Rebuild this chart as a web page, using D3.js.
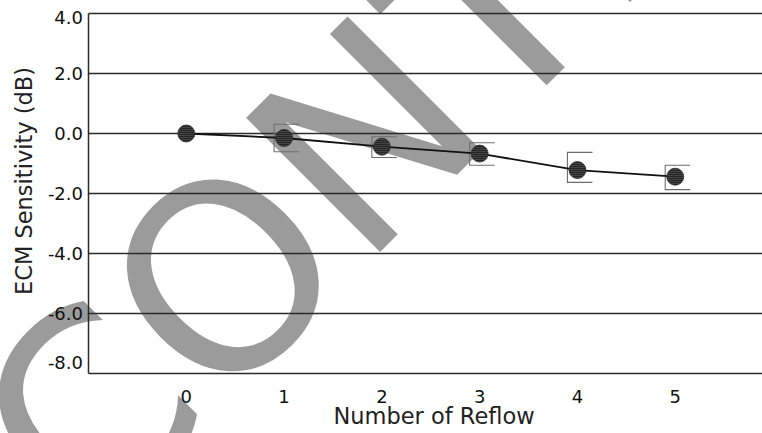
<!DOCTYPE html>
<html>
<head>
<meta charset="utf-8">
<script src="https://cdn.jsdelivr.net/npm/d3@7"></script>
<style>
  body { margin: 0; background: #fff; }
  text { font-family: "DejaVu Sans", Verdana, sans-serif; }
</style>
</head>
<body>
<script>
// chart values
var reflows = [0, 1, 2, 3, 4, 5];
var sensitivity = [0.0, -0.15, -0.44, -0.67, -1.22, -1.44];
var errUpper = [null, 0.31, -0.11, -0.31, -0.63, -1.06];
var errLower = [null, -0.61, -0.80, -1.06, -1.63, -1.87];
var yTicks = [4, 2, 0, -2, -4, -6, -8];
var yTickLabels = ["4.0", "2.0", "0.0", "-2.0", "-4.0", "-6.0", "-8.0"];
var xTickLabels = ["0", "1", "2", "3", "4", "5"];
var watermark = "CONTROLLED COPY";

window.onload = drawChart();

function drawChart(){

    var width = 762,
        height = 433;

    var svg = d3.select("body")
        .append("svg")
        .attr("width", width)
        .attr("height", height);

    //scales
    var x = d3.scaleLinear()
        .domain([-1, 6])
        .range([88.5, 773]);

    var y = d3.scaleLinear()
        .domain([-8, 4])
        .range([373.5, 13.5]);

    //striped fill for the markers
    var pat = svg.append("defs").append("pattern")
        .attr("id", "stripes")
        .attr("patternUnits", "userSpaceOnUse")
        .attr("width", 6)
        .attr("height", 2);
    pat.append("rect").attr("width", 6).attr("height", 2).attr("fill", "#454545");
    pat.append("rect").attr("width", 6).attr("height", 0.8).attr("fill", "#1c1c1c");

    //grey watermark sits under everything
    svg.append("text")
        .attr("transform", "translate(89,543) rotate(-45)")
        .attr("font-size", 260)
        .attr("fill", "#9b9b9b")
        .text(watermark);

    //horizontal grid lines
    svg.selectAll(".grid")
        .data(yTicks)
        .enter()
        .append("line")
        .attr("class", "grid")
        .attr("x1", x(-1))
        .attr("x2", width)
        .attr("y1", function(d){ return y(d); })
        .attr("y2", function(d){ return y(d); })
        .attr("stroke", "#2b2b2b")
        .attr("stroke-width", 1.5);

    //left axis line
    svg.append("line")
        .attr("x1", x(-1)).attr("x2", x(-1))
        .attr("y1", y(4)).attr("y2", y(-8))
        .attr("stroke", "#2b2b2b")
        .attr("stroke-width", 1.5);

    //y tick labels, kept inside the frame at the ends
    svg.selectAll(".ylab")
        .data(yTicks)
        .enter()
        .append("text")
        .attr("class", "ylab")
        .attr("x", 83)
        .attr("y", function(d){ return Math.min(Math.max(y(d), 18), 363); })
        .attr("dy", "0.36em")
        .attr("text-anchor", "end")
        .attr("font-size", 18)
        .attr("fill", "#111")
        .text(function(d, i){ return yTickLabels[i]; });

    //x tick labels
    svg.selectAll(".xlab")
        .data(reflows)
        .enter()
        .append("text")
        .attr("class", "xlab")
        .attr("x", function(d){ return x(d); })
        .attr("y", 403)
        .attr("text-anchor", "middle")
        .attr("font-size", 18)
        .attr("fill", "#111")
        .text(function(d, i){ return xTickLabels[i]; });

    //axis titles
    svg.append("text")
        .attr("x", 434)
        .attr("y", 424)
        .attr("text-anchor", "middle")
        .attr("font-size", 22.5)
        .attr("fill", "#222")
        .text("Number of Reflow");

    svg.append("text")
        .attr("transform", "translate(32,181) rotate(-90)")
        .attr("text-anchor", "middle")
        .attr("font-size", 22.5)
        .attr("fill", "#222")
        .text("ECM Sensitivity (dB)");

    //error brackets
    var bars = reflows.filter(function(d, i){ return errUpper[i] !== null; });
    svg.selectAll(".err")
        .data(bars)
        .enter()
        .append("path")
        .attr("class", "err")
        .attr("fill", "none")
        .attr("stroke", "#6e6e6e")
        .attr("stroke-width", 1.1)
        .attr("d", function(d){
            var cx = x(d),
                t = y(errUpper[d]),
                b = y(errLower[d]);
            return "M" + (cx + 15) + "," + t + "H" + (cx - 10) + "V" + b + "H" + (cx + 15);
        });

    //trend line
    var line = d3.line()
        .x(function(d){ return x(d); })
        .y(function(d, i){ return y(sensitivity[i]); });

    svg.append("path")
        .datum(reflows)
        .attr("fill", "none")
        .attr("stroke", "#111")
        .attr("stroke-width", 1.8)
        .attr("d", line);

    //markers
    svg.selectAll(".pt")
        .data(reflows)
        .enter()
        .append("circle")
        .attr("class", "pt")
        .attr("cx", function(d){ return x(d); })
        .attr("cy", function(d, i){ return y(sensitivity[i]); })
        .attr("r", 8.5)
        .attr("fill", "url(#stripes)")
        .attr("stroke", "#2a2a2a")
        .attr("stroke-width", 0.8);
};
</script>
</body>
</html>
